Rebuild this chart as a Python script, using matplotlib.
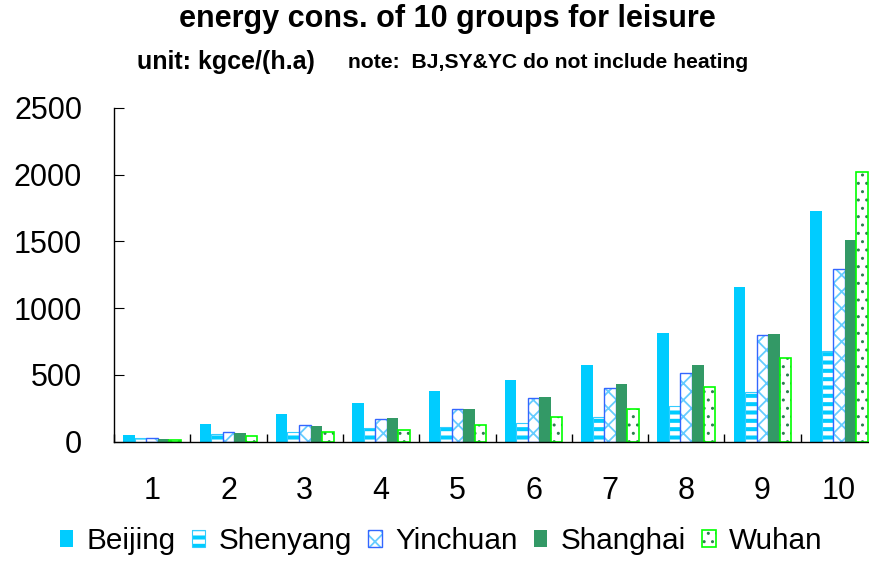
import matplotlib
matplotlib.use("Agg")
import matplotlib.pyplot as plt
import matplotlib.patches as mpatches
from matplotlib.legend_handler import HandlerTuple
import numpy as np

# income groups (1 = lowest, 10 = highest)
groups = ["1", "2", "3", "4", "5", "6", "7", "8", "9", "10"]

# leisure energy consumption, kgce per household per year
beijing = [45, 130, 203, 290, 375, 461, 573, 816, 1159, 1730]
shenyang = [25, 55, 70, 100, 108, 140, 185, 266, 373, 679]
yinchuan = [25, 70, 120, 168, 243, 328, 398, 513, 799, 1294]
shanghai = [17, 62, 115, 178, 245, 333, 431, 573, 803, 1514]
wuhan = [10, 38, 70, 85, 123, 183, 243, 408, 626, 2020]

city_names = ["Beijing", "Shenyang", "Yinchuan", "Shanghai", "Wuhan"]
y_ticks = [0, 500, 1000, 1500, 2000, 2500]

plt.rcParams['font.family'] = ['Liberation Sans', 'DejaVu Sans']

# hatch line width per hatch pattern
HATCH_LW = {"--": 2.9, "xx": 1.3, "..": 1.0}


def use_hatch_lw(patch):
    lw = HATCH_LW.get(patch.get_hatch())
    if lw is not None:
        patch.set_hatch_linewidth(lw)


fig = plt.figure(figsize=(8.7, 5.61), dpi=100)
ax = fig.add_axes([114 / 870, (561 - 441.5) / 561, 763 / 870, 333.5 / 561])

x = np.arange(len(groups)) + 0.5
w = 0.151
offs = (np.arange(5) - 2) * w


def hatched(xpos, vals, hatch, hatch_color, edge_color, edge_lw):
    fill = ax.bar(xpos, vals, w, facecolor="white", edgecolor=hatch_color,
                  hatch=hatch, linewidth=0)
    for p in fill:
        use_hatch_lw(p)
    outline = ax.bar(xpos, vals, w, fill=False, edgecolor=edge_color,
                     linewidth=edge_lw)
    return (fill[0], outline[0])


h_bj = ax.bar(x + offs[0], beijing, w, color="#00CCFF", linewidth=0)[0]
h_sy = hatched(x + offs[1], shenyang, "--", "#00CCFF", "#33CCFF", 0.8)
h_yc = hatched(x + offs[2], yinchuan, "xx", "#66CCFF", "#3366FF", 1.0)
h_sh = ax.bar(x + offs[3], shanghai, w, color="#339966", linewidth=0)[0]
h_wh = hatched(x + offs[4], wuhan, "..", "#2E7D4F", "#00FF00", 1.2)

ax.set_xlim(0, 10)
ax.set_ylim(0, 2500)
ax.set_yticks(y_ticks)
ax.tick_params(axis="y", direction="in", length=7, width=0.8,
               labelsize=22, pad=23)

ax.set_xticks(np.arange(0, 11))
ax.set_xticklabels([])
ax.set_xticks(x, minor=True)
ax.set_xticklabels(groups, minor=True)
ax.tick_params(axis="x", which="major", direction="in", length=6, width=1.0)
ax.tick_params(axis="x", which="minor", length=0, labelsize=22, pad=25)

for s in ("top", "right"):
    ax.spines[s].set_visible(False)
for s in ("left", "bottom"):
    ax.spines[s].set_linewidth(1.0)
    ax.spines[s].set_color("black")

fig.text(447.5 / 870, 1 - 19 / 561, "energy cons. of 10 groups for leisure",
         ha="center", va="center", fontsize=22, fontweight="bold")
fig.text(137 / 870, 1 - 62 / 561, "unit: kgce/(h.a)",
         ha="left", va="center", fontsize=18, fontweight="bold")
fig.text(348 / 870, 1 - 62 / 561, "note:  BJ,SY&YC do not include heating",
         ha="left", va="center", fontsize=15.2, fontweight="bold")

leg = fig.legend([h_bj, h_sy, h_yc, h_sh, h_wh], city_names,
                 handler_map={tuple: HandlerTuple(ndivide=1)},
                 loc="center", bbox_to_anchor=(441 / 870, 1 - 541 / 561),
                 ncol=5, frameon=False, fontsize=21.4,
                 handlelength=0.45, handleheight=0.5, handletextpad=0.45,
                 columnspacing=0.55, borderaxespad=0, borderpad=0)
for p in leg.findobj(mpatches.Rectangle):
    use_hatch_lw(p)

fig.savefig("out.png", dpi=100)
